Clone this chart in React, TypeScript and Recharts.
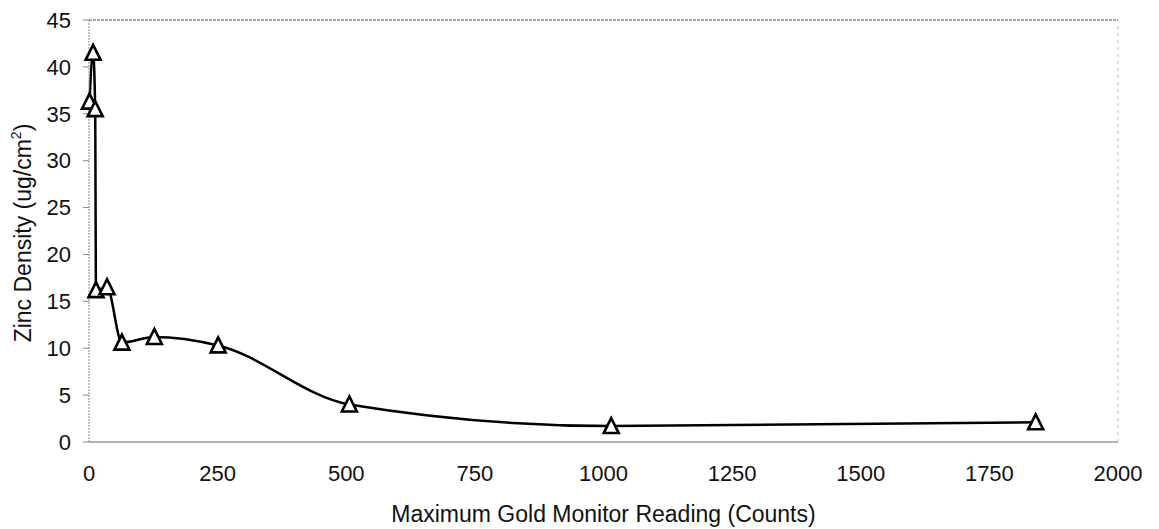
import { LineChart, Line, XAxis, YAxis, ReferenceLine, Label } from 'recharts';

const goldCounts = [1, 8, 12, 13.6, 35, 64, 127, 251, 506, 1015, 1840];
const zincDensity = [36.3, 41.5, 35.5, 16.2, 16.5, 10.6, 11.2, 10.3, 4.0, 1.7, 2.1];
const xTicks = [0, 250, 500, 750, 1000, 1250, 1500, 1750, 2000];
const yTicks = [0, 5, 10, 15, 20, 25, 30, 35, 40, 45];

const data = goldCounts.map((x, i) => ({ x, zinc: zincDensity[i] }));

const FONT = '"Liberation Sans", Arial, sans-serif';

const TriangleDot = (props: any) => {
  const { cx, cy } = props;
  if (cx == null || cy == null) return null;
  const pts = `${cx},${cy - 8} ${cx - 7.5},${cy + 7} ${cx + 7.5},${cy + 7}`;
  return <polygon points={pts} fill="#fff" stroke="#000" strokeWidth={2.6} strokeLinejoin="miter" />;
};

const YTitle = () => (
  <text
    transform="translate(31, 233) rotate(-90)"
    textAnchor="middle"
    fontFamily={FONT}
    fontSize={23}
    fill="#111"
  >
    Zinc Density (ug/cm
    <tspan fontSize={14} dy={-10}>2</tspan>
    <tspan dy={10}>)</tspan>
  </text>
);

export default function App() {
  return (
    <div style={{ position: 'absolute', left: 0, top: 0, background: '#fff' }}>
      <LineChart width={1159} height={529} data={data} margin={{ top: 20, right: 41, bottom: 0, left: 0 }}>
        <XAxis
          type="number"
          dataKey="x"
          domain={[0, 2000]}
          ticks={xTicks}
          interval={0}
          stroke="#999"
          strokeWidth={1.5}
          tickLine={false}
          tickSize={6}
          tickMargin={17}
          height={87}
          tick={{ fill: '#111', fontSize: 22, fontFamily: FONT }}
        >
          <Label
            value="Maximum Gold Monitor Reading (Counts)"
            position="insideBottom"
            offset={7}
            style={{ fill: '#111', fontSize: 23, fontFamily: FONT }}
          />
        </XAxis>
        <YAxis
          type="number"
          domain={[0, 45]}
          ticks={yTicks}
          interval={0}
          width={89}
          stroke="#888"
          strokeDasharray="2 1"
          tickSize={6}
          tickMargin={12}
          tick={{ fill: '#111', fontSize: 22, fontFamily: FONT }}
          tickLine={{ stroke: '#888', strokeDasharray: '0' }}
        >
          <Label content={<YTitle />} />
        </YAxis>
        <ReferenceLine y={45} stroke="#888" strokeWidth={1.5} strokeDasharray="3 1" />
        <ReferenceLine x={2000} stroke="#bbb" strokeDasharray="3 4" />
        <Line
          type="monotone"
          dataKey="zinc"
          stroke="#000"
          strokeWidth={2.5}
          dot={<TriangleDot />}
          activeDot={false}
          isAnimationActive={false}
        />
      </LineChart>
    </div>
  );
}
